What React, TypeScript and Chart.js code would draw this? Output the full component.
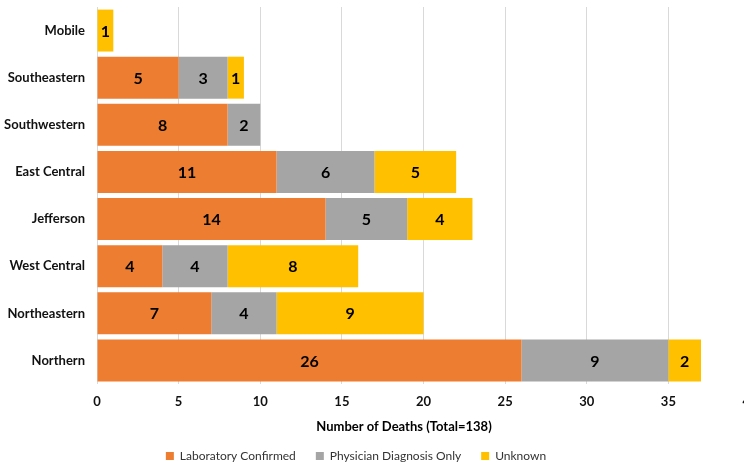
import { useEffect, useRef } from "react";
import { Chart, registerables } from "chart.js";

Chart.register(...registerables);

// Deaths by public health district, split by case classification
const regions = [
  "Mobile",
  "Southeastern",
  "Southwestern",
  "East Central",
  "Jefferson",
  "West Central",
  "Northeastern",
  "Northern",
];
const labConfirmed = [0, 5, 8, 11, 14, 4, 7, 26];
const physicianOnly = [0, 3, 2, 6, 5, 4, 4, 9];
const unknownCause = [1, 1, 0, 5, 4, 8, 9, 2];

const seriesNames = ["Laboratory Confirmed", "Physician Diagnosis Only", "Unknown"];
const seriesColors = ["#ED7D31", "#A5A5A5", "#FFC000"];

const axisMin = 0;
const axisMax = 40;
const axisStep = 5;
const axisTitle = "Number of Deaths (Total=138)";

const FONT = "Lato, 'Open Sans', sans-serif";
const CANVAS_W = 760;
const CANVAS_H = 462;
const VIEW_W = 744;
const LEGEND_SPAN = 712;
const TITLE_X = 404;
const TITLE_Y = 427;

// Numbers drawn in the middle of each stacked segment
const segmentLabels = {
  id: "segmentLabels",
  afterDatasetsDraw(chart: any) {
    const ctx = chart.ctx;
    ctx.save();
    ctx.font = `bold 16px ${FONT}`;
    ctx.fillStyle = "#000";
    ctx.textAlign = "center";
    ctx.textBaseline = "middle";
    chart.data.datasets.forEach((ds: any, i: number) => {
      const meta = chart.getDatasetMeta(i);
      meta.data.forEach((bar: any, j: number) => {
        const v = ds.data[j];
        if (!v) return;
        const { x, y, base } = bar.getProps(["x", "y", "base"], true);
        ctx.fillText(String(v), (x + base) / 2, y + 1);
      });
    });
    ctx.restore();
  },
};

// Re-centres the legend and draws the value-axis caption
const bottomBlocks = {
  id: "bottomBlocks",
  afterLayout(chart: any) {
    const lg = chart.legend;
    if (lg) {
      lg.left = 0;
      lg.right = LEGEND_SPAN;
      lg.width = LEGEND_SPAN;
      lg.top += 10;
      lg.bottom += 10;
    }
  },
  afterDraw(chart: any) {
    const ctx = chart.ctx;
    ctx.save();
    ctx.font = `bold 13px ${FONT}`;
    ctx.fillStyle = "#000";
    ctx.textAlign = "center";
    ctx.textBaseline = "middle";
    ctx.fillText(axisTitle, TITLE_X, TITLE_Y);
    ctx.restore();
  },
};

export default function App() {
  const canvasRef = useRef<HTMLCanvasElement | null>(null);

  useEffect(() => {
    const canvas = canvasRef.current;
    if (!canvas) return;
    const series = [labConfirmed, physicianOnly, unknownCause];
    const chart = new Chart(canvas, {
      type: "bar",
      data: {
        labels: regions,
        datasets: series.map((data, i) => ({
          label: seriesNames[i],
          data,
          backgroundColor: seriesColors[i],
          borderWidth: 0,
          categoryPercentage: 1,
          barPercentage: 0.89,
        })),
      },
      options: {
        indexAxis: "y",
        responsive: false,
        animation: false,
        layout: { padding: { top: 7, right: 10, left: 0, bottom: 0 } },
        scales: {
          x: {
            stacked: true,
            min: axisMin,
            max: axisMax,
            ticks: {
              stepSize: axisStep,
              padding: 10,
              color: "#111",
              font: { family: FONT, size: 13, weight: "bold" },
            },
            grid: { color: "#D9D9D9", lineWidth: 1, drawTicks: false },
            border: { display: false },
            afterFit(scale: any) {
              scale.height = 36;
              scale.paddingLeft = 0;
              scale.paddingRight = 0;
            },
          },
          y: {
            stacked: true,
            ticks: {
              padding: 12,
              color: "#111",
              font: { family: FONT, size: 13, weight: "bold" },
            },
            grid: { display: false, drawTicks: false },
            border: { display: false },
            afterFit(scale: any) {
              scale.width = 97;
              scale.paddingTop = 0;
              scale.paddingBottom = 0;
            },
          },
        },
        plugins: {
          legend: {
            position: "bottom",
            labels: {
              boxWidth: 8,
              boxHeight: 8,
              padding: 20,
              color: "#333",
              font: { family: FONT, size: 12 },
            },
          },
          tooltip: { enabled: false },
        },
      },
      plugins: [segmentLabels, bottomBlocks],
    } as any);
    return () => chart.destroy();
  }, []);

  return (
    <div
      style={{
        position: "fixed",
        left: 0,
        top: 0,
        width: VIEW_W,
        height: CANVAS_H,
        overflow: "hidden",
        background: "#fff",
      }}
    >
      <canvas
        ref={canvasRef}
        width={CANVAS_W}
        height={CANVAS_H}
        style={{ width: CANVAS_W, height: CANVAS_H, display: "block" }}
      />
    </div>
  );
}
